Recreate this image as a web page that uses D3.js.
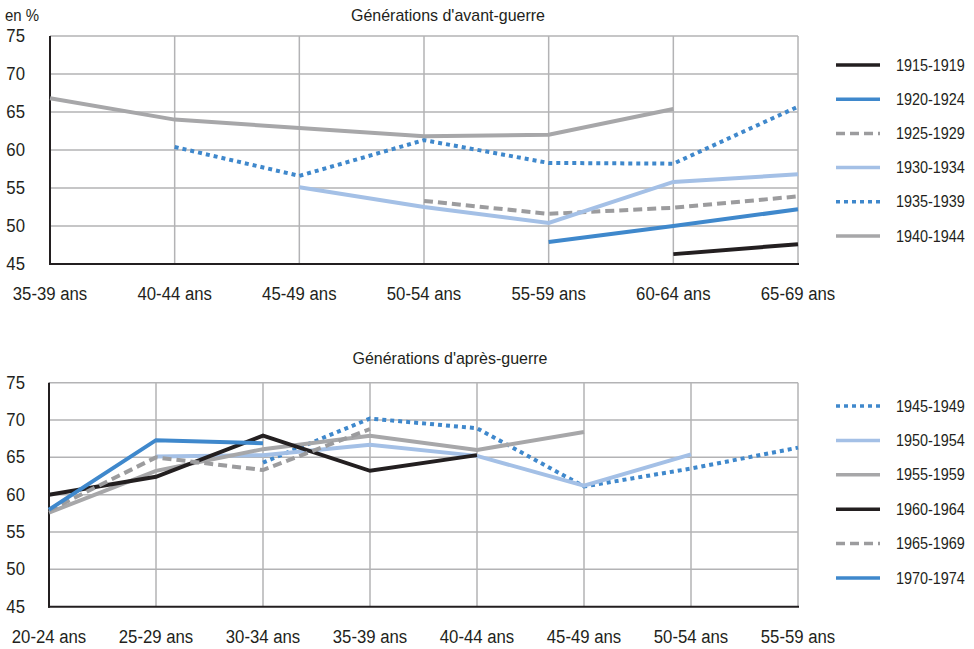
<!DOCTYPE html>
<html>
<head>
<meta charset="utf-8">
<script src="https://cdn.jsdelivr.net/npm/d3@7"></script>
<style>
  html, body { margin: 0; padding: 0; background: #ffffff; }
  svg { display: block; }
  text { font-family: "Liberation Sans", Arial, sans-serif; fill: #231f20; }
</style>
</head>
<body>
<svg id="chart" width="974" height="649"></svg>
<script>
// ---------- DATA ----------
const yTicks = [45, 50, 55, 60, 65, 70, 75];

const topTitle = "Générations d'avant-guerre";
const topAges = ["35-39 ans", "40-44 ans", "45-49 ans", "50-54 ans", "55-59 ans", "60-64 ans", "65-69 ans"];
const topCohorts = ["1915-1919", "1920-1924", "1925-1929", "1930-1934", "1935-1939", "1940-1944"];
const v1915 = [null, null, null, null, null, 46.3, 47.6];
const v1920 = [null, null, null, null, 47.9, 50.0, 52.2];
const v1925 = [null, null, null, 53.3, 51.6, 52.4, 53.9];
const v1930 = [null, null, 55.1, 52.5, 50.4, 55.8, 56.8];
const v1935 = [null, 60.4, 56.6, 61.3, 58.3, 58.2, 65.7];
const v1940 = [66.8, 64.0, 62.9, 61.8, 62.0, 65.4, null];

const bottomTitle = "Générations d'après-guerre";
const bottomAges = ["20-24 ans", "25-29 ans", "30-34 ans", "35-39 ans", "40-44 ans", "45-49 ans", "50-54 ans", "55-59 ans"];
const bottomCohorts = ["1945-1949", "1950-1954", "1955-1959", "1960-1964", "1965-1969", "1970-1974"];
const v1945 = [null, null, 64.3, 70.2, 68.9, 61.1, 63.5, 66.3];
const v1950 = [null, 65.1, 65.3, 66.7, 65.2, 61.2, 65.4, null];
const v1955 = [57.6, 63.2, 66.1, 67.9, 66.0, 68.4, null, null];
const v1960 = [60.0, 62.4, 67.9, 63.2, 65.3, null, null, null];
const v1965 = [57.9, 65.0, 63.3, 68.8, null, null, null, null];
const v1970 = [58.0, 67.3, 66.9, null, null, null, null, null];

// ---------- STYLES ----------
const styles = {
  "1915-1919": { color: "#231f20", dash: null },
  "1920-1924": { color: "#3f88cc", dash: null },
  "1925-1929": { color: "#9c9c9e", dash: "9,5" },
  "1930-1934": { color: "#a4c0e6", dash: null },
  "1935-1939": { color: "#3f88cc", dash: "4,4" },
  "1940-1944": { color: "#a7a7a9", dash: null },
  "1945-1949": { color: "#3f88cc", dash: "4,4" },
  "1950-1954": { color: "#a4c0e6", dash: null },
  "1955-1959": { color: "#a7a7a9", dash: null },
  "1960-1964": { color: "#231f20", dash: null },
  "1965-1969": { color: "#9c9c9e", dash: "9,5" },
  "1970-1974": { color: "#3f88cc", dash: null }
};

const svg = d3.select("#chart");

function drawPanel(cfg) {
  const x = d3.scalePoint().domain(cfg.ages).range([cfg.x0, cfg.x1]);
  const y = d3.scaleLinear().domain([45, 75]).range([cfg.yBottom, cfg.yTop]);
  const g = svg.append("g");

  // horizontal grid
  g.selectAll(".hg").data(yTicks.filter(t => t > 45)).enter().append("line")
    .attr("x1", cfg.x0).attr("x2", cfg.x1)
    .attr("y1", d => y(d)).attr("y2", d => y(d))
    .attr("stroke", "#b3b3b5").attr("stroke-width", 1.5);
  // vertical grid
  g.selectAll(".vg").data(cfg.ages.slice(1)).enter().append("line")
    .attr("x1", d => x(d)).attr("x2", d => x(d))
    .attr("y1", cfg.yTop).attr("y2", cfg.yBottom)
    .attr("stroke", "#b3b3b5").attr("stroke-width", 1.5);

  // axes (black left & bottom)
  g.append("line").attr("x1", cfg.x0).attr("x2", cfg.x0)
    .attr("y1", cfg.yTop).attr("y2", cfg.yBottom + 1)
    .attr("stroke", "#231f20").attr("stroke-width", 2);
  g.append("line").attr("x1", cfg.x0 - 1).attr("x2", cfg.x1 + 1)
    .attr("y1", cfg.yBottom).attr("y2", cfg.yBottom)
    .attr("stroke", "#231f20").attr("stroke-width", 2);

  // y tick labels
  g.selectAll(".yl").data(yTicks).enter().append("text")
    .attr("class", "cmp").attr("data-f", 0.93)
    .attr("x", 25).attr("y", d => y(d))
    .attr("text-anchor", "end").attr("dominant-baseline", "central")
    .style("font-size", "18px").text(d => d);

  // x tick labels
  g.selectAll(".xl").data(cfg.ages).enter().append("text")
    .attr("class", "cmp").attr("data-f", 0.93)
    .attr("x", d => x(d)).attr("y", cfg.xLabelY)
    .attr("text-anchor", "middle").attr("dominant-baseline", "central")
    .style("font-size", "18px").text(d => d);

  // title
  g.append("text").attr("class", "cmp").attr("data-f", 0.94)
    .attr("x", cfg.titleX).attr("y", cfg.titleY)
    .attr("text-anchor", "middle").attr("dominant-baseline", "central")
    .style("font-size", "17px").text(cfg.title);

  // series
  const line = d3.line()
    .defined(d => d.v !== null)
    .x(d => x(d.age)).y(d => y(d.v));
  cfg.cohorts.forEach((c, i) => {
    const pts = cfg.series[i].map((v, j) => ({ age: cfg.ages[j], v: v }));
    const st = styles[c];
    g.append("path").datum(pts)
      .attr("d", line)
      .attr("fill", "none")
      .attr("stroke", st.color)
      .attr("stroke-width", 4)
      .attr("stroke-linejoin", "miter")
      .attr("stroke-dasharray", st.dash);
  });

  // legend
  const lg = g.append("g");
  cfg.cohorts.forEach((c, i) => {
    const ly = cfg.legendY0 + i * cfg.legendStep;
    const st = styles[c];
    lg.append("line").attr("x1", 836).attr("x2", 880)
      .attr("y1", ly).attr("y2", ly)
      .attr("stroke", st.color).attr("stroke-width", 3.5)
      .attr("stroke-dasharray", st.dash);
    lg.append("text").attr("class", "cmp").attr("data-f", 0.9)
      .attr("x", 896).attr("y", ly)
      .attr("dominant-baseline", "central")
      .style("font-size", "16px").text(c);
  });
}

drawPanel({
  ages: topAges, cohorts: topCohorts,
  series: [v1915, v1920, v1925, v1930, v1935, v1940],
  x0: 50, x1: 798, yTop: 36, yBottom: 264,
  xLabelY: 294, title: topTitle, titleX: 448, titleY: 15,
  legendY0: 65, legendStep: 34.2
});

drawPanel({
  ages: bottomAges, cohorts: bottomCohorts,
  series: [v1945, v1950, v1955, v1960, v1965, v1970],
  x0: 49, x1: 798, yTop: 382.7, yBottom: 606.7,
  xLabelY: 637, title: bottomTitle, titleX: 450, titleY: 358,
  legendY0: 406, legendStep: 34.4
});

// unit label
svg.append("text").attr("class", "cmp").attr("data-f", 0.88)
  .attr("x", 5).attr("y", 15)
  .attr("dominant-baseline", "central")
  .style("font-size", "17px").text("en %");

// condense text to mimic the narrow typeface of the original
svg.selectAll("text.cmp").each(function () {
  const f = +this.getAttribute("data-f");
  const w = this.getComputedTextLength();
  d3.select(this).attr("textLength", w * f).attr("lengthAdjust", "spacingAndGlyphs");
});
</script>
</body>
</html>
